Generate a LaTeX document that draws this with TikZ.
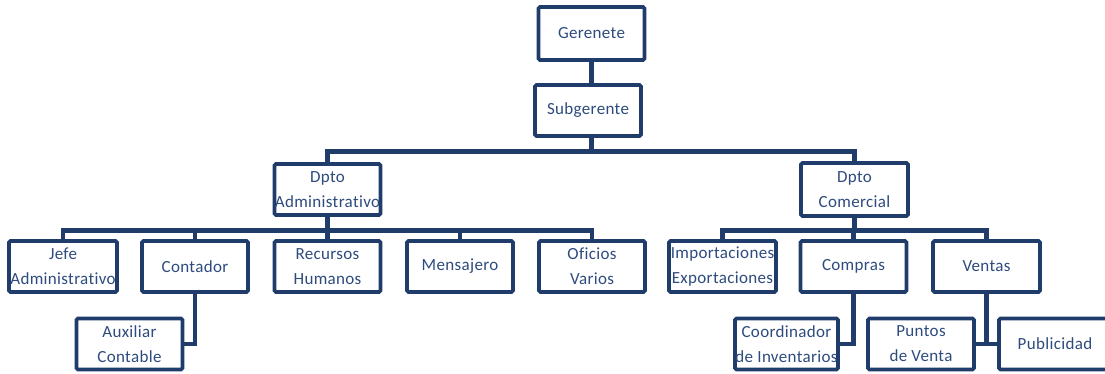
\documentclass[tikz,border=0pt]{standalone}
\usepackage{fontspec}
\setmainfont[LetterSpace=2,Ligatures={NoCommon}]{Carlito}
\definecolor{linec}{HTML}{1F3C6B}
\definecolor{textc}{HTML}{2E4B7E}
\begin{document}
\begin{tikzpicture}[x=1pt,y=-1pt,
  box/.style={draw=linec, line width=3.8pt, rounded corners=1.5pt, fill=white,
    minimum width=106pt, minimum height=51pt, inner sep=0pt, align=center,
    text=textc, font=\fontsize{17}{25}\selectfont},
  link/.style={draw=linec, line width=4.2pt}]
\useasboundingbox (0,0) rectangle (1105,373);
% top management
\node[box, minimum height=53pt] (ger) at (591.5,33.5) {Gerenete};
\node[box] (sub) at (588,110.5) {Subgerente};
% departments
\node[box] (dadm) at (327.5,189.5) {Dpto\\Administrativo};
\node[box, minimum width=107pt, minimum height=53pt] (dcom) at (854.5,189.5) {Dpto\\Comercial};
% administrative units
\node[box, minimum width=108pt] (jefe) at (63,266.5) {Jefe\\Administrativo};
\node[box] (cont) at (195,266.5) {Contador};
\node[box] (rrhh) at (327.5,266.5) {Recursos\\Humanos};
\node[box] (mens) at (460,266.5) {Mensajero};
\node[box] (ofic) at (592,266.5) {Oficios\\Varios};
\node[box] (aux) at (129.5,344) {Auxiliar\\Contable};
% commercial units
\node[box, minimum width=107pt] (impo) at (722.5,266.5) {Importaciones\\Exportaciones};
\node[box] (comp) at (853.5,266.5) {Compras};
\node[box, minimum width=107pt] (vent) at (986.5,266.5) {Ventas};
\node[box, minimum width=103pt] (coord) at (786.5,344) {Coordinador\\de Inventarios};
\node[box] (punt) at (921,344) {Puntos\\de Venta};
\node[box, minimum width=112pt] (publ) at (1055,344) {Publicidad};
% connectors
\draw[link] (ger.south) -- (ger.south |- sub.north);
\draw[link] (sub.south -| ger.south) -- ++(0,13.5) -| (dadm.north);
\draw[link] (sub.south -| ger.south) -- ++(0,13.5) -| (dcom.north);
\foreach \c in {jefe,cont,rrhh,mens,ofic}
  \draw[link] (dadm.south) -- ++(0,13.5) -| (\c.north);
\foreach \c in {impo,comp,vent}
  \draw[link] (dcom.south) -- ++(0,12.5) -| (\c.north);
\draw[link] (cont.south) |- (aux.east);
\draw[link] (comp.south) |- (coord.east);
\draw[link] (vent.south) |- (punt.east);
\draw[link] (vent.south) |- (publ.west);
\end{tikzpicture}
\end{document}
